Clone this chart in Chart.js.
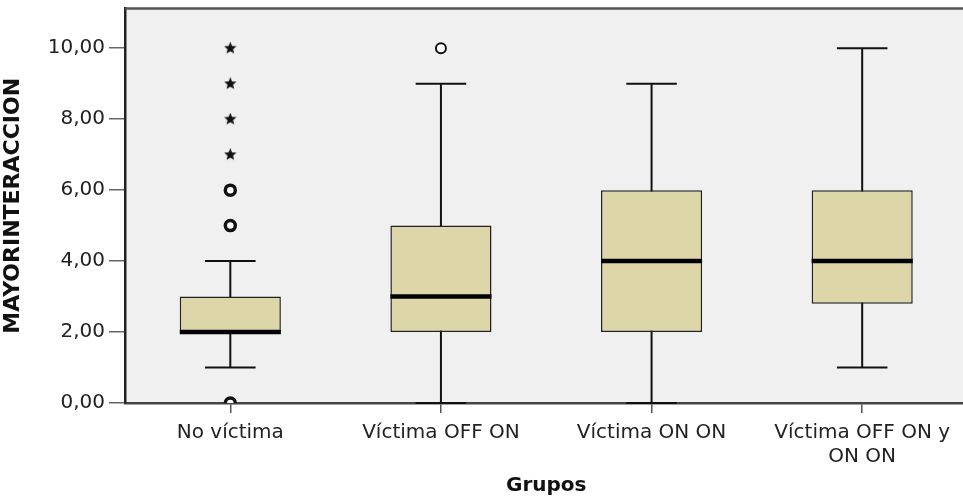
<!DOCTYPE html>
<html>
<head>
<meta charset="utf-8">
<title>MAYORINTERACCION por Grupos</title>
<script src="https://cdn.jsdelivr.net/npm/chart.js@4.4.0/dist/chart.umd.min.js"></script>
<style>
    html, body { margin: 0; padding: 0; background: #ffffff; overflow: hidden; }
    #wrap { width: 976px; height: 502px; }
</style>
</head>
<body>
<div id="wrap"><canvas id="boxplot" width="976" height="502"></canvas></div>
<script>
// Data
const groups = ['No víctima', 'Víctima OFF ON', 'Víctima ON ON', ['Víctima OFF ON y', 'ON ON']];
const whiskerLow = [1, 0, 0, 1];
const quartile1 = [2, 2, 2, 2.8];
const medians = [2, 3, 4, 4];
const quartile3 = [3, 5, 6, 6];
const whiskerHigh = [4, 9, 9, 10];
// outliers (circles) and extremes (stars), by group index
const outlierGroup = [0, 0, 0, 1];
const outlierValues = [0, 5, 6, 10];
const extremeGroup = [0, 0, 0, 0];
const extremeValues = [7, 8, 9, 10];
const yTicks = [0, 2, 4, 6, 8, 10];

const boxFill = '#dcd6a8';
const plotBg = '#f0f0f0';

Chart.defaults.font.family = "'DejaVu Sans', sans-serif";
Chart.defaults.color = '#222';

// small filled star used for the extreme values
function makeStar(size) {
    const c = document.createElement('canvas');
    c.width = size;
    c.height = size;
    const g = c.getContext('2d');
    const cx = size / 2, cy = size / 2, outer = size / 2, inner = size / 4.5;
    g.beginPath();
    for (let i = 0; i < 10; i++) {
        const r = i % 2 === 0 ? outer : inner;
        const a = -Math.PI / 2 + i * Math.PI / 5;
        g.lineTo(cx + r * Math.cos(a), cy + r * Math.sin(a));
    }
    g.closePath();
    g.fillStyle = '#111';
    g.fill();
    return c;
}
const starIcon = makeStar(13);

// background of the plot area and the top frame line
const plotFrame = {
    id: 'plotFrame',
    beforeDraw(chart) {
        const { ctx, chartArea } = chart;
        ctx.save();
        ctx.fillStyle = plotBg;
        ctx.fillRect(chartArea.left, chartArea.top, chartArea.right - chartArea.left, chartArea.bottom - chartArea.top);
        ctx.restore();
    },
    afterDraw(chart) {
        const { ctx, chartArea } = chart;
        ctx.save();
        ctx.strokeStyle = '#555';
        ctx.lineWidth = 2.5;
        ctx.beginPath();
        ctx.moveTo(chartArea.left, chartArea.top);
        ctx.lineTo(chartArea.right, chartArea.top);
        ctx.stroke();
        ctx.restore();
    }
};

// whiskers under the boxes, medians over them
const boxParts = {
    id: 'boxParts',
    beforeDatasetsDraw(chart) {
        const { ctx } = chart;
        const x = chart.scales.x, y = chart.scales.y;
        const boxes = chart.getDatasetMeta(0).data;
        ctx.save();
        ctx.strokeStyle = '#111';
        ctx.lineWidth = 2;
        groups.forEach((g, i) => {
            const cx = x.getPixelForValue(i);
            const half = boxes[i].width / 4;
            const lo = y.getPixelForValue(whiskerLow[i]);
            const hi = y.getPixelForValue(whiskerHigh[i]);
            ctx.beginPath();
            ctx.moveTo(cx, lo);
            ctx.lineTo(cx, hi);
            ctx.moveTo(cx - half, lo);
            ctx.lineTo(cx + half, lo);
            ctx.moveTo(cx - half, hi);
            ctx.lineTo(cx + half, hi);
            ctx.stroke();
        });
        ctx.restore();
    },
    afterDatasetsDraw(chart) {
        const { ctx } = chart;
        const x = chart.scales.x, y = chart.scales.y;
        const boxes = chart.getDatasetMeta(0).data;
        ctx.save();
        ctx.strokeStyle = '#000';
        ctx.lineWidth = 4.5;
        groups.forEach((g, i) => {
            const cx = x.getPixelForValue(i);
            const half = boxes[i].width / 2;
            const my = y.getPixelForValue(medians[i]);
            ctx.beginPath();
            ctx.moveTo(cx - half, my);
            ctx.lineTo(cx + half, my);
            ctx.stroke();
        });
        ctx.restore();
    }
};

new Chart(document.getElementById('boxplot'), {
    type: 'bar',
    data: {
        labels: groups,
        datasets: [
            {
                label: 'Caja',
                data: groups.map((g, i) => [quartile1[i], quartile3[i]]),
                backgroundColor: boxFill,
                borderColor: '#222',
                borderWidth: 1.5,
                borderSkipped: false,
                barPercentage: 0.48,
                categoryPercentage: 1,
                order: 2
            },
            {
                type: 'line',
                label: 'Atípicos',
                data: outlierValues.map((v, i) => ({ x: groups[outlierGroup[i]], y: v })),
                showLine: false,
                pointStyle: 'circle',
                pointRadius: 5,
                pointBorderWidth: [3.5, 3.5, 3.5, 2],
                pointBorderColor: '#111',
                pointBackgroundColor: '#ffffff',
                order: 1
            },
            {
                type: 'line',
                label: 'Extremos',
                data: extremeValues.map((v, i) => ({ x: groups[extremeGroup[i]], y: v })),
                showLine: false,
                pointStyle: starIcon,
                order: 1
            }
        ]
    },
    options: {
        responsive: false,
        animation: false,
        devicePixelRatio: 1,
        layout: { padding: 0 },
        plugins: {
            legend: { display: false },
            tooltip: { enabled: false }
        },
        scales: {
            x: {
                type: 'category',
                offset: true,
                grid: {
                    offset: false,
                    drawOnChartArea: false,
                    drawTicks: true,
                    tickLength: 10,
                    color: '#555',
                    lineWidth: 1.5
                },
                border: { display: true, color: '#444', width: 2.5 },
                ticks: {
                    font: { size: 20 },
                    color: '#222',
                    padding: 8,
                    maxRotation: 0,
                    autoSkip: false
                },
                title: {
                    display: true,
                    text: 'Grupos',
                    font: { size: 20, weight: 'bold' },
                    color: '#111',
                    padding: { top: 8, bottom: 4 }
                },
                afterFit(scale) {
                    scale.height = 99;
                    scale.paddingLeft = 0;
                    scale.paddingRight = 0;
                }
            },
            y: {
                min: 0,
                max: 11.12,
                grid: {
                    drawOnChartArea: false,
                    drawTicks: true,
                    tickLength: 16,
                    color: '#666',
                    lineWidth: 1.5
                },
                border: { display: true, color: '#222', width: 2.5 },
                ticks: {
                    font: { size: 20 },
                    color: '#222',
                    padding: 4,
                    includeBounds: false,
                    callback: v => v.toFixed(2).replace('.', ',')
                },
                afterBuildTicks(scale) {
                    scale.ticks = yTicks.map(v => ({ value: v }));
                },
                title: {
                    display: true,
                    text: 'MAYORINTERACCION',
                    font: { size: 22, weight: 'bold' },
                    color: '#111',
                    padding: { top: 0, bottom: 4 }
                },
                afterFit(scale) {
                    scale.width = 125;
                    scale.paddingTop = 7;
                    scale.paddingBottom = 0;
                }
            }
        }
    },
    plugins: [plotFrame, boxParts]
});
</script>
</body>
</html>
